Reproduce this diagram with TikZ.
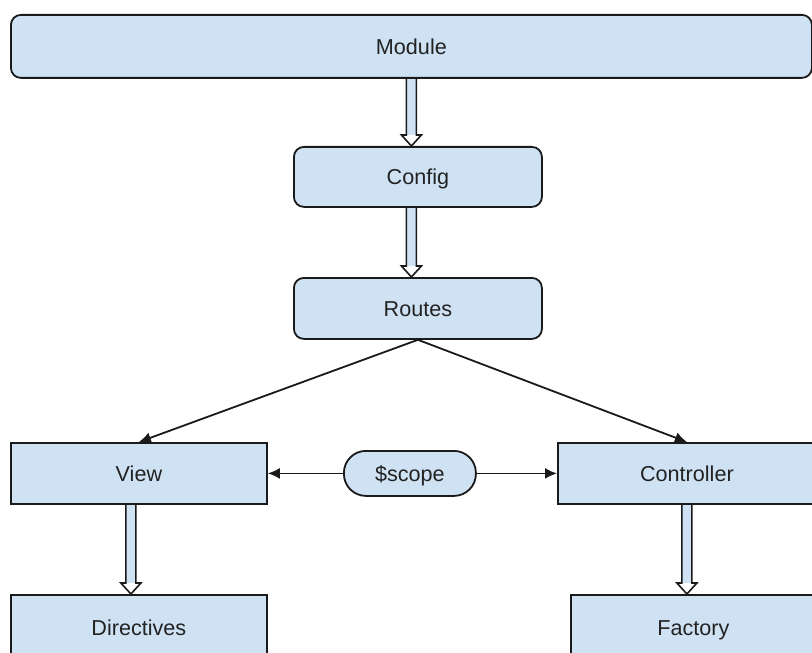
\documentclass[tikz,border=0pt]{standalone}
\usepackage{fontspec}
\setmainfont{Liberation Sans}
\usetikzlibrary{calc,arrows.meta,positioning}
\definecolor{boxblue}{HTML}{CFE2F3}
\definecolor{edge}{HTML}{1A1A1A}
\definecolor{txt}{HTML}{222222}
\newcommand\fatarr[2]{%
  \fill[boxblue] ($(#1)+(-5,0)$) rectangle ($(#2)+(5,-11)$);
  \fill[white] ($(#2)+(-10,-11)$) -- (#2) -- ($(#2)+(10,-11)$) -- cycle;
  \draw[edge,line width=0.8pt,line join=miter]
    ($(#1)+(-5,0)$) -- ($(#2)+(-5,-11)$) -- ($(#2)+(-10,-11)$) -- (#2)
    -- ($(#2)+(10,-11)$) -- ($(#2)+(5,-11)$) -- ($(#1)+(5,0)$);
}
\begin{document}
\begin{tikzpicture}[x=0.5pt,y=-0.5pt,
  box/.style={draw=edge,fill=boxblue,line width=0.9pt,anchor=north west,
    inner sep=0pt,text=txt,text height=7.8pt,text depth=0pt,
    font=\fontsize{10.8}{12}\selectfont},
  rbox/.style={box,rounded corners=5pt},
  thin/.style={draw=edge,line width=0.9pt,-{Latex[length=6pt,width=5.5pt]}}]
\useasboundingbox (0,0) rectangle (812,652);
\fill[white] (0,0) rectangle (812,652);
\node[rbox,minimum width=400.5pt,minimum height=31.5pt] (module) at (10,14) {Module};
\node[rbox,minimum width=124pt,minimum height=30pt] (config) at (293,146) {Config};
\node[rbox,minimum width=124pt,minimum height=30.5pt] (routes) at (293,277) {Routes};
\node[box,minimum width=128pt,minimum height=30.5pt] (view) at (10,442) {View};
\node[box,rounded corners=11pt,minimum width=66pt,minimum height=22.5pt] (scope) at (343,450) {\$scope};
\node[box,minimum width=129pt,minimum height=30.5pt] (controller) at (557,442) {Controller};
\node[box,minimum width=128pt,minimum height=33pt] (directives) at (10,594) {Directives};
\node[box,minimum width=122.5pt,minimum height=33pt] (factory) at (570,594) {Factory};

\fatarr{module.south}{module.south |- config.north}
\fatarr{module.south |- config.south}{module.south |- routes.north}
\coordinate (vs) at ([xshift=-4pt]view.south);
\fatarr{vs}{vs |- directives.north}
\fatarr{controller.south}{controller.south |- factory.north}

\draw[thin] (routes.south) -- (view.north);
\draw[thin] (routes.south) -- (controller.north);
\draw[thin] (scope.west) -- (view.east);
\draw[thin] (scope.east) -- (controller.west);
\end{tikzpicture}
\end{document}
